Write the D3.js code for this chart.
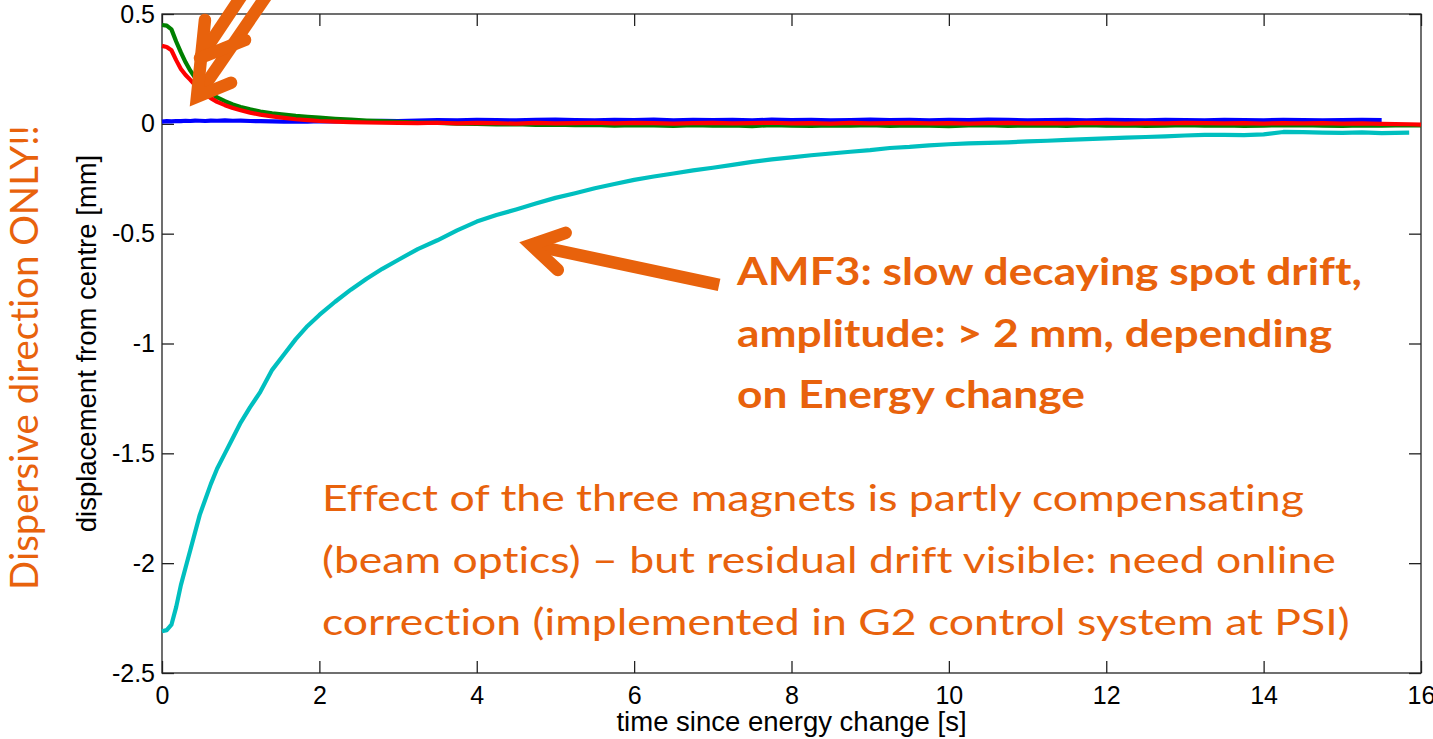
<!DOCTYPE html>
<html>
<head>
<meta charset="utf-8">
<script src="https://cdn.jsdelivr.net/npm/d3@7"></script>
<style>
  html, body { margin: 0; padding: 0; background: #ffffff; overflow: hidden; }
  svg { display: block; }
  text { font-variant-ligatures: none; font-feature-settings: "liga" 0, "clig" 0; }
</style>
</head>
<body>
<svg id="chart" width="1433" height="739"></svg>
<script>
// Time since the energy change [s]
const timeS = [
  0, 0.06, 0.12, 0.18, 0.24, 0.3, 0.36, 0.42, 0.48, 0.55, 0.62, 0.7, 0.8, 0.9, 1.0,
  1.12, 1.25, 1.4, 1.55, 1.7, 1.85, 2.0, 2.2, 2.4, 2.6, 2.8, 3.0,
  3.25, 3.5, 3.75, 4.0, 4.25, 4.5, 4.75, 5.0, 5.25, 5.5, 5.75, 6.0, 6.25, 6.5, 6.75,
  7.0, 7.25, 7.5, 7.75, 8.0, 8.25, 8.5, 8.75, 9.0, 9.25, 9.5, 9.75, 10.0, 10.25, 10.5,
  10.75, 11.0, 11.25, 11.5, 11.75, 12.0, 12.25, 12.5, 12.75, 13.0, 13.25, 13.5, 13.75,
  14.0, 14.25, 14.5, 14.75, 15.0, 15.25, 15.5, 15.85, 16.0
];

// Spot displacement from centre [mm], one trace per magnet
const driftBlue = [
  0.01, 0.012, 0.011, 0.013, 0.012, 0.014, 0.013, 0.015, 0.014, 0.013, 0.015, 0.014, 0.016, 0.014, 0.015,
  0.013, 0.012, 0.011, 0.01, 0.011, 0.01, 0.012, 0.011, 0.013, 0.012, 0.014, 0.013,
  0.015, 0.017, 0.016, 0.018, 0.017, 0.016, 0.018, 0.019, 0.017, 0.016,
  0.018, 0.017, 0.019, 0.016, 0.018, 0.017, 0.018, 0.016, 0.019, 0.017,
  0.018, 0.016, 0.017, 0.019, 0.017, 0.018, 0.016, 0.018, 0.017, 0.019,
  0.018, 0.016, 0.017, 0.018, 0.016, 0.018, 0.017, 0.016, 0.018, 0.017,
  0.016, 0.018, 0.017, 0.016, 0.018, 0.017, 0.016, 0.017, 0.018, 0.017,
  null, null
];
const driftGreen = [
  0.45, 0.447, 0.43, 0.375, 0.325, 0.28, 0.242, 0.21, 0.185, 0.16, 0.14, 0.12, 0.103, 0.088, 0.077,
  0.066, 0.056, 0.048, 0.042, 0.036, 0.032, 0.028, 0.023, 0.019, 0.015, 0.012, 0.009,
  0.006, 0.004, 0.001, 0.0, -0.003, -0.002, -0.005, -0.004, -0.006, -0.005,
  -0.008, -0.006, -0.007, -0.009, -0.006, -0.008, -0.007, -0.01, -0.006, -0.008,
  -0.009, -0.007, -0.008, -0.006, -0.009, -0.007, -0.008, -0.01, -0.007, -0.006,
  -0.009, -0.008, -0.007, -0.009, -0.006, -0.008, -0.007, -0.009, -0.008, -0.006,
  -0.008, -0.007, -0.009, -0.008, -0.007, -0.006, -0.008, -0.009, -0.007, -0.008,
  -0.006, -0.007
];
const driftRed = [
  0.355, 0.35, 0.335, 0.29, 0.25, 0.222, 0.2, 0.176, 0.155, 0.135, 0.117, 0.1, 0.085, 0.072, 0.062,
  0.051, 0.042, 0.034, 0.027, 0.021, 0.017, 0.013, 0.01, 0.008, 0.006, 0.005, 0.004,
  0.003, 0.005, 0.002, 0.004, 0.003, 0.001, 0.004, 0.002, 0.003, 0.005,
  0.002, 0.004, 0.003, 0.001, 0.003, 0.004, 0.002, 0.003, 0.005, 0.002,
  0.003, 0.001, 0.004, 0.002, 0.003, 0.004, 0.002, 0.003, 0.001, 0.003,
  0.004, 0.002, 0.003, 0.002, 0.004, 0.003, 0.001, 0.003, 0.002, 0.004,
  0.003, 0.002, 0.003, 0.001, 0.003, 0.002, 0.003, 0.001, 0.002, 0.0,
  -0.002, -0.004
];
const driftCyan = [
  -2.31, -2.305, -2.28, -2.2, -2.1, -2.02, -1.94, -1.86, -1.78, -1.71, -1.64, -1.57, -1.5, -1.43, -1.36,
  -1.29, -1.22, -1.12, -1.05, -0.98, -0.92, -0.87, -0.81, -0.755, -0.705, -0.66, -0.62,
  -0.57, -0.53, -0.485, -0.445, -0.415, -0.39, -0.363, -0.337, -0.316, -0.293,
  -0.274, -0.255, -0.24, -0.226, -0.212, -0.2, -0.187, -0.173, -0.162, -0.153,
  -0.143, -0.135, -0.127, -0.12, -0.11, -0.105, -0.098, -0.093, -0.089, -0.087,
  -0.084, -0.08, -0.077, -0.073, -0.07, -0.066, -0.063, -0.06, -0.057, -0.053,
  -0.05, -0.05, -0.051, -0.048, -0.037, -0.038, -0.04, -0.041, -0.039, -0.042,
  -0.04, null
];

const xTicks = [0, 2, 4, 6, 8, 10, 12, 14, 16];
const xTickLabels = ["0", "2", "4", "6", "8", "10", "12", "14", "16"];
const yTicks = [0.5, 0, -0.5, -1, -1.5, -2, -2.5];
const yTickLabels = ["0.5", "0", "-0.5", "-1", "-1.5", "-2", "-2.5"];

const xLabel = "time since energy change [s]";
const yLabel = "displacement from centre [mm]";
const sideNote = "Dispersive direction ONLY!!";
const boldNote = [
  "AMF3: slow decaying spot drift,",
  "amplitude: > 2 mm, depending",
  "on Energy change"
];
const plainNote = [
  "Effect of the three magnets is partly compensating",
  "(beam optics) \u2013 but residual drift visible: need online",
  "correction (implemented in G2 control system at PSI)"
];

// Annotation arrows, anchored in data units [t, mm]
const bigArrow = { tip: [4.69, -0.551], arms: [[5.13, -0.496], [5.03, -0.665]], tail: [7.08, -0.733] };
const topArrows = [
  { tip: [0.445, 0.123], arms: [[0.546, 0.473], [0.877, 0.187]], tail: [1.436, 0.64] },
  { tip: [0.483, 0.30], arms: [[1.055, 0.382]], tail: [1.118, 0.64] }
];

// ---------- layout ----------
const W = 1433, H = 739;
const plot = { left: 162, top: 14, right: 1421, bottom: 673 };
const ORANGE = "#E8620C";
const AXIS_FONT = "'Liberation Sans', Arial, sans-serif";
const NOTE_FONT = "Lato, 'Open Sans', sans-serif";

const svg = d3.select("#chart");
svg.append("rect").attr("width", W).attr("height", H).attr("fill", "#fff");

const x = d3.scaleLinear().domain([0, 16]).range([plot.left, plot.right]);
const y = d3.scaleLinear().domain([-2.5, 0.5]).range([plot.bottom, plot.top]);

// ---------- axes (ticks pointing inwards on all four sides) ----------
function styleAxis(g) {
  g.select(".domain").remove();
  g.selectAll(".tick line").attr("stroke", "#222").attr("stroke-width", 1.3);
  g.selectAll(".tick text").attr("fill", "#000")
    .style("font-family", AXIS_FONT).style("font-size", "25px");
}

svg.append("g")
  .attr("transform", `translate(0,${plot.bottom})`)
  .call(d3.axisBottom(x).tickValues(xTicks).tickFormat((d, i) => xTickLabels[i])
    .tickSizeInner(-12).tickSizeOuter(0).tickPadding(13))
  .call(styleAxis);

svg.append("g")
  .attr("transform", `translate(0,${plot.top})`)
  .call(d3.axisTop(x).tickValues(xTicks).tickFormat("").tickSizeInner(-12).tickSizeOuter(0))
  .call(styleAxis);

svg.append("g")
  .attr("transform", `translate(${plot.left},0)`)
  .call(d3.axisLeft(y).tickValues(yTicks).tickFormat((d, i) => yTickLabels[i])
    .tickSizeInner(-12).tickSizeOuter(0).tickPadding(7))
  .call(styleAxis);

svg.append("g")
  .attr("transform", `translate(${plot.right},0)`)
  .call(d3.axisRight(y).tickValues(yTicks).tickFormat("").tickSizeInner(-12).tickSizeOuter(0))
  .call(styleAxis);

svg.append("rect")
  .attr("x", plot.left).attr("y", plot.top)
  .attr("width", plot.right - plot.left).attr("height", plot.bottom - plot.top)
  .attr("fill", "none").attr("stroke", "#222").attr("stroke-width", 1.3);

// axis titles
svg.append("text")
  .attr("x", (plot.left + plot.right) / 2).attr("y", 731)
  .attr("text-anchor", "middle")
  .style("font-family", AXIS_FONT).style("font-size", "27.5px").attr("fill", "#000")
  .text(xLabel);

svg.append("text")
  .attr("transform", `translate(96,${(plot.top + plot.bottom) / 2}) rotate(-90)`)
  .attr("text-anchor", "middle")
  .style("font-family", AXIS_FONT).style("font-size", "27.5px").attr("fill", "#000")
  .text(yLabel);

// ---------- traces ----------
const series = [
  { values: driftBlue, color: "#0000FF" },
  { values: driftGreen, color: "#008000" },
  { values: driftRed, color: "#FF0000" },
  { values: driftCyan, color: "#00BFBF" }
];

const line = d3.line()
  .defined(d => d.v != null)
  .x(d => x(d.t))
  .y(d => y(d.v));

svg.append("g").selectAll("path")
  .data(series)
  .join("path")
  .attr("d", s => line(timeS.map((t, i) => ({ t, v: s.values[i] }))))
  .attr("fill", "none")
  .attr("stroke", s => s.color)
  .attr("stroke-width", 4.2)
  .attr("stroke-linejoin", "round");

// ---------- annotations ----------
const ann = svg.append("g");
const px = p => [x(p[0]), y(p[1])];

function drawArrow(a) {
  const tip = px(a.tip);
  // shaft
  ann.append("line")
    .attr("x1", tip[0]).attr("y1", tip[1])
    .attr("x2", px(a.tail)[0]).attr("y2", px(a.tail)[1])
    .attr("stroke", ORANGE).attr("stroke-width", 12.5).attr("stroke-linecap", "butt");
  // head
  const pts = a.arms.length === 2 ? [px(a.arms[0]), tip, px(a.arms[1])] : [tip, px(a.arms[0])];
  ann.append("path")
    .attr("d", d3.line()(pts))
    .attr("fill", "none").attr("stroke", ORANGE).attr("stroke-width", 12.5)
    .attr("stroke-linecap", "round").attr("stroke-linejoin", "miter").attr("stroke-miterlimit", 6);
}
drawArrow(bigArrow);
topArrows.forEach(drawArrow);

// text block scaled horizontally so the reference line spans a given width
function textBlock(lines, x0, baselines, weight, size, refIndex, refWidth) {
  const g = ann.append("g");
  const inner = g.append("g");
  const texts = inner.selectAll("text").data(lines).join("text")
    .attr("x", 0).attr("y", (d, i) => baselines[i])
    .style("font-family", NOTE_FONT).style("font-weight", weight).style("font-size", size + "px")
    .attr("fill", ORANGE).text(d => d);
  const natural = texts.nodes()[refIndex].getComputedTextLength();
  const sx = refWidth / natural;
  inner.attr("transform", `translate(${x0},0) scale(${sx},1)`);
}

textBlock(boldNote, 737, [285, 347, 408], 700, 38, 0, 625);
textBlock(plainNote, 322, [511, 573, 635], 400, 37, 2, 1028);

// rotated side note
const side = ann.append("g").attr("transform", `translate(38,357.5) rotate(-90)`);
const sideText = side.append("text")
  .attr("text-anchor", "middle")
  .style("font-family", NOTE_FONT).style("font-size", "39px")
  .attr("fill", ORANGE).text(sideNote);
const sideLen = sideText.node().getComputedTextLength();
sideText.attr("transform", `scale(${465 / sideLen},1)`);
</script>
</body>
</html>
